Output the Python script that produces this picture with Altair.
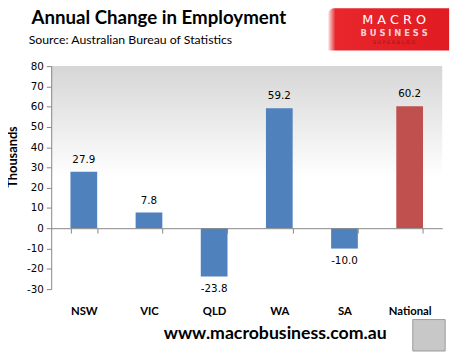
import altair as alt
import pandas as pd

regions = ["NSW", "VIC", "QLD", "WA", "SA", "National"]
changes = [27.9, 7.8, -23.8, 59.2, -10.0, 60.2]
y_ticks = [-30, -20, -10, 0, 10, 20, 30, 40, 50, 60, 70, 80]

df = pd.DataFrame({"region": regions, "value": changes})
df["label"] = [f"{v:.1f}" for v in changes]

W, H = 398, 227
one = alt.Data(values=[{"a": 1}])

xenc = alt.X("region:N", sort=regions, title=None,
             scale=alt.Scale(paddingInner=0.59, paddingOuter=0.295),
             axis=alt.Axis(orient="bottom", offset=-62, tickBand="extent", zindex=2,
                           domainColor="#868686", tickColor="#868686", tickSize=5,
                           labelFont="Lato", labelFontWeight="bold", labelFontSize=11.5,
                           labelColor="#000000", labelPadding=74, labelAngle=0))
yenc = alt.Y("value:Q", title="Thousands",
             scale=alt.Scale(domain=[-30, 80], nice=False, zero=False),
             axis=alt.Axis(values=y_ticks, grid=False, domainColor="#868686", zindex=2,
                           tickColor="#868686", tickSize=5, labelOverlap=False,
                           labelExpr="'' + datum.value",
                           labelFont="DejaVu Sans", labelFontSize=10.5, labelColor="#000000",
                           labelPadding=3,
                           titleFont="Lato", titleFontSize=13, titleFontWeight="bold",
                           titleColor="#000000", titleX=-39, titleY=92,
                           titleAngle=-90, titleAlign="center", titleBaseline="middle"))

bg = alt.Chart(one).mark_rect(
    fill={"gradient": "linear", "x1": 0, "y1": 0, "x2": 0, "y2": 1,
          "stops": [{"offset": 0, "color": "#d6d6d6"},
                    {"offset": 0.5, "color": "#ffffff"},
                    {"offset": 1, "color": "#ffffff"}]}
).encode(x=alt.value(0), x2=alt.value(W), y=alt.value(0), y2=alt.value(H))

base = alt.Chart(df)
bars = base.mark_bar().encode(
    x=xenc, y=yenc, y2=alt.datum(0),
    color=alt.condition(alt.datum.region == "National", alt.value("#c0504d"), alt.value("#4f81bd")),
)
lab_pos = base.transform_filter(alt.datum.value >= 0).mark_text(
    font="DejaVu Sans", fontSize=10.5, dy=-12, color="#000000"
).encode(x=xenc, y=yenc, text="label:N")
lab_neg = base.transform_filter(alt.datum.value < 0).mark_text(
    font="DejaVu Sans", fontSize=10.5, dy=13, color="#000000"
).encode(x=xenc, y=yenc, text="label:N")

title = alt.Chart(one).mark_text(
    text="Annual Change in Employment", font="Lato", fontSize=19, fontWeight="bold",
    align="left", baseline="middle", color="#000000"
).encode(x=alt.value(-20), y=alt.value(-49))
subtitle = alt.Chart(one).mark_text(
    text="Source:  Australian Bureau of Statistics", font="Lato", fontSize=12.5,
    align="left", baseline="middle", color="#000000"
).encode(x=alt.value(-23), y=alt.value(-27))
site = alt.Chart(one).mark_text(
    text="www.macrobusiness.com.au", font="Lato", fontSize=18, fontWeight="bold",
    align="center", baseline="middle", color="#000000"
).encode(x=alt.value(228), y=alt.value(273))

logo = alt.Chart(one).mark_rect(
    cornerRadiusTopLeft=6,
    fill={"gradient": "linear", "x1": 0, "y1": 0, "x2": 1, "y2": 0,
          "stops": [{"offset": 0, "color": "#fbe3e3"},
                    {"offset": 0.06, "color": "#e8262c"},
                    {"offset": 1, "color": "#e01b22"}]}
).encode(x=alt.value(282), x2=alt.value(405), y=alt.value(-59), y2=alt.value(-16))
logo1 = alt.Chart(one).mark_text(
    text="M A C R O", font="DejaVu Sans", fontSize=13, color="#ffffff",
    align="center", baseline="middle"
).encode(x=alt.value(349), y=alt.value(-47))
logo2 = alt.Chart(one).mark_text(
    text="B U S I N E S S", font="DejaVu Sans", fontSize=8.5, fontWeight="bold",
    color="#f8d0d0", align="center", baseline="middle"
).encode(x=alt.value(349), y=alt.value(-34))
logo3 = alt.Chart(one).mark_text(
    text="S U P E R B L O G", font="DejaVu Sans", fontSize=5, color="#a01016",
    align="center", baseline="middle"
).encode(x=alt.value(349), y=alt.value(-25))

wolf = alt.Chart(one).mark_rect(
    fill="#c8c8c8", stroke="#9a9a9a", strokeWidth=1
).encode(x=alt.value(368), x2=alt.value(401), y=alt.value(258), y2=alt.value(290))

chart = alt.layer(bg, bars, lab_pos, lab_neg, title, subtitle, site,
                  logo, logo1, logo2, logo3, wolf).properties(
    width=W, height=H,
    autosize=alt.AutoSizeParams(type="none"),
    padding={"left": 44, "top": 56, "right": 13, "bottom": 69},
).configure_view(stroke=None).configure_axis(labelOverlap=False)

chart.save("out.html", embed_options={"renderer": "svg", "actions": False})
